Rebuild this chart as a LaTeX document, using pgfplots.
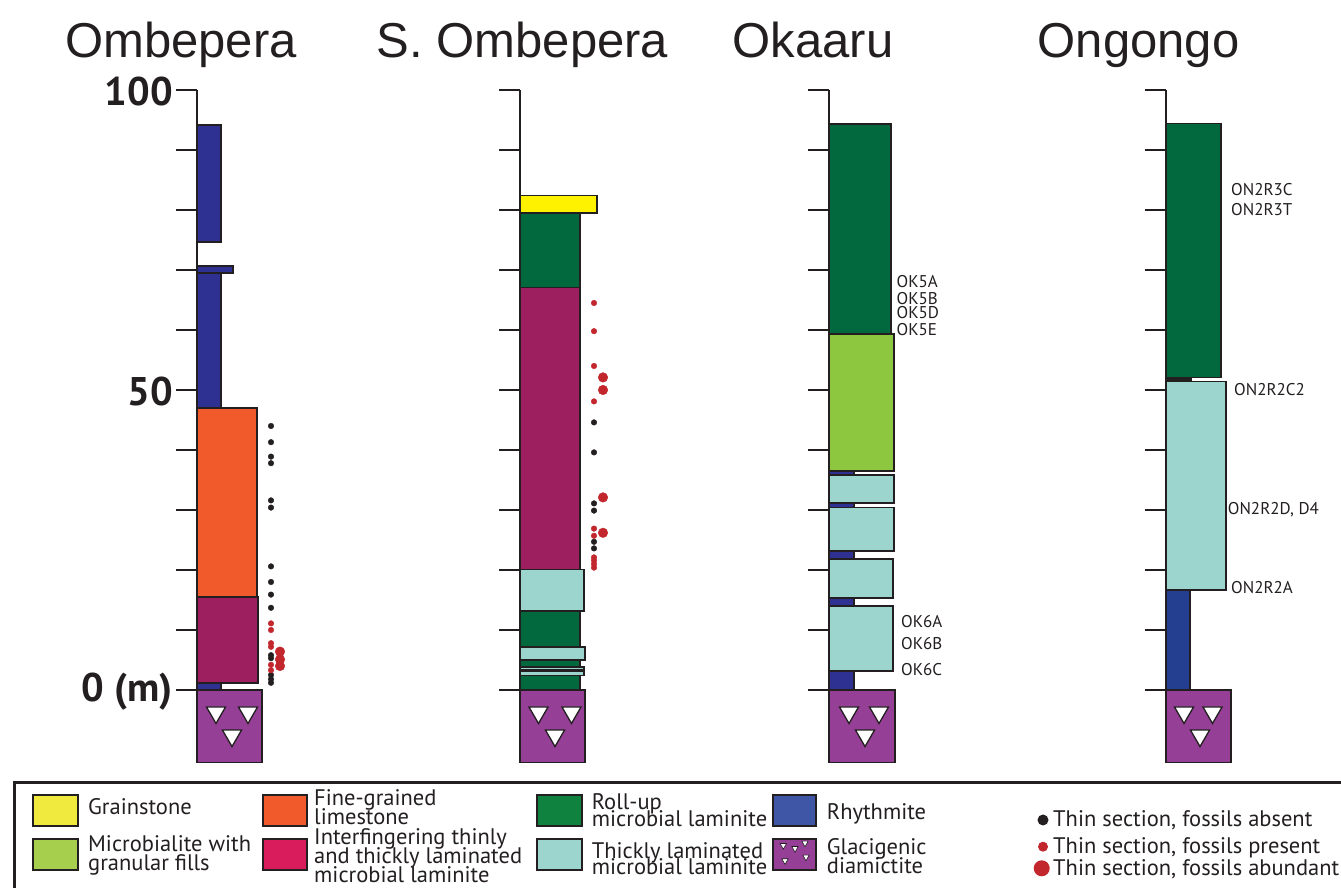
\documentclass[border=0pt]{standalone}
\usepackage{pgfplots}
\pgfplotsset{compat=1.18}
\usepackage{fontspec}
\setmainfont{PT Sans}
\newfontfamily\titlefont{Liberation Sans}
\definecolor{ink}{HTML}{231F20}
\definecolor{rhy}{HTML}{2E3192}
\definecolor{rhyB}{HTML}{243F8F}
\definecolor{rhyL}{HTML}{3F56A6}
\definecolor{orng}{HTML}{F15A2B}
\definecolor{mag}{HTML}{9E1F5F}
\definecolor{magL}{HTML}{D91C5C}
\definecolor{dgreen}{HTML}{02683E}
\definecolor{dgreenL}{HTML}{10823F}
\definecolor{lgreen}{HTML}{8DC63F}
\definecolor{lgreenL}{HTML}{A5CF4C}
\definecolor{yel}{HTML}{FFF200}
\definecolor{yelL}{HTML}{F1EA3E}
\definecolor{tlam}{HTML}{9BD5CD}
\definecolor{diam}{HTML}{953F96}
\definecolor{fred}{HTML}{C1272D}
\pgfplotsset{
  stratcol/.style={
    scale only axis, width=130pt, height=600pt,
    xmin=0, xmax=130, ymin=0, ymax=100,
    clip=false, anchor=south west,
    axis x line=none, axis y line=left,
    y axis line style={-, line width=2.4pt, draw=ink},
    ytick={0,10,...,100},
    tick align=outside, major tick length=21pt,
    ytick style={line width=2pt, draw=ink},
  },
  nolabels/.style={yticklabel={\mbox{}}},
  bed/.style={fill=#1, draw=ink, line width=1.6pt},
  dotA/.style={only marks, mark=*, mark size=2.8pt, color=ink},
  dotP/.style={only marks, mark=*, mark size=2.8pt, color=fred},
  dotB/.style={only marks, mark=*, mark size=4.8pt, color=fred},
  tri/.style={only marks, mark=triangle*, mark size=11pt, mark options={rotate=180, fill=white, draw=ink, line width=1.3pt}},
}
\tikzset{samp/.style={anchor=west, inner sep=0pt, font=\fontsize{17}{17}\selectfont, text=ink}}
\begin{document}
\begin{tikzpicture}[x=1pt,y=1pt]
\useasboundingbox (0,0) rectangle (1341,888);

% ---------------- Ombepera ----------------
\begin{axis}[stratcol, at={(197pt,198pt)},
  yticklabels={0 (m),,,,,50,,,,,100},
  yticklabel style={font=\fontsize{40}{40}\selectfont\bfseries, inner sep=3pt, text=ink, yshift=-2pt}]
\addplot[bed=diam] coordinates {(0,-12.1) (65,-12.1) (65,0) (0,0)} -- cycle;
\addplot[bed=rhy] coordinates {(0,0) (24,0) (24,1.2) (0,1.2)} -- cycle;
\addplot[bed=mag] coordinates {(0,1.2) (61,1.2) (61,15.5) (0,15.5)} -- cycle;
\addplot[bed=orng] coordinates {(0,15.5) (60,15.5) (60,47) (0,47)} -- cycle;
\addplot[bed=rhy] coordinates {(0,47) (24,47) (24,69.5) (0,69.5)} -- cycle;
\addplot[bed=rhy] coordinates {(0,69.5) (36,69.5) (36,70.7) (0,70.7)} -- cycle;
\addplot[bed=rhy] coordinates {(0,74.7) (24,74.7) (24,94.2) (0,94.2)} -- cycle;
\addplot[tri] coordinates {(19,-3.75) (51,-3.75) (35,-7.6)};
\addplot[dotA] coordinates {(74,44.0) (74,41.3) (74,38.9) (74,37.8) (74,31.6) (74,30.4) (74,20.6) (74,18.0) (74,15.9) (74,13.7) (74,5.8) (74,5.3) (74,2.5) (74,1.8) (74,1.2)};
\addplot[dotP] coordinates {(74,11.1) (74,10.0) (74,7.8) (74,7.2) (74,4.2) (74,3.3)};
\addplot[dotB] coordinates {(83,6.4) (83,5.1) (83,4.0)};
\end{axis}

% ---------------- S. Ombepera ----------------
\begin{axis}[stratcol, nolabels, at={(520pt,198pt)}]
\addplot[bed=diam] coordinates {(0,-12.1) (65,-12.1) (65,0) (0,0)} -- cycle;
\addplot[bed=dgreen] coordinates {(0,0) (60,0) (60,2.4) (0,2.4)} -- cycle;
\addplot[bed=tlam] coordinates {(0,2.4) (64,2.4) (64,3.1) (0,3.1)} -- cycle;
\addplot[bed=tlam] coordinates {(0,3.35) (64,3.35) (64,3.8) (0,3.8)} -- cycle;
\addplot[bed=dgreen] coordinates {(0,3.8) (60,3.8) (60,4.95) (0,4.95)} -- cycle;
\addplot[bed=tlam] coordinates {(0,4.95) (65,4.95) (65,7.2) (0,7.2)} -- cycle;
\addplot[bed=dgreen] coordinates {(0,7.2) (60,7.2) (60,13.2) (0,13.2)} -- cycle;
\addplot[bed=tlam] coordinates {(0,13.2) (64,13.2) (64,20.05) (0,20.05)} -- cycle;
\addplot[bed=mag] coordinates {(0,20.05) (60,20.05) (60,67.05) (0,67.05)} -- cycle;
\addplot[bed=dgreen] coordinates {(0,67.05) (60,67.05) (60,79.5) (0,79.5)} -- cycle;
\addplot[bed=yel] coordinates {(0,79.5) (77,79.5) (77,82.4) (0,82.4)} -- cycle;
\addplot[tri] coordinates {(18.5,-3.75) (51.5,-3.75) (35,-7.6)};
\addplot[dotA] coordinates {(74,44.6) (74,39.6) (74,31.1) (74,29.9) (74,24.7) (74,23.6)};
\addplot[dotP] coordinates {(74,64.5) (74,59.8) (74,54.0) (74,48.1) (74,26.9) (74,25.7) (74,22.1) (74,21.6) (74,21.0) (74,20.4)};
\addplot[dotB] coordinates {(83,52.1) (83,50.0) (83,32.1) (83,26.2)};
\end{axis}

% ---------------- Okaaru ----------------
\begin{axis}[stratcol, nolabels, at={(829pt,198pt)}]
\addplot[bed=diam] coordinates {(0,-12.1) (66,-12.1) (66,0) (0,0)} -- cycle;
\addplot[bed=rhy] coordinates {(0,0) (25,0) (25,3.2) (0,3.2)} -- cycle;
\addplot[bed=tlam] coordinates {(0,3.2) (64,3.2) (64,14) (0,14)} -- cycle;
\addplot[bed=rhy] coordinates {(0,14) (25,14) (25,15.3) (0,15.3)} -- cycle;
\addplot[bed=tlam] coordinates {(0,15.3) (64,15.3) (64,21.8) (0,21.8)} -- cycle;
\addplot[bed=rhy] coordinates {(0,21.8) (25,21.8) (25,23.2) (0,23.2)} -- cycle;
\addplot[bed=tlam] coordinates {(0,23.2) (65,23.2) (65,30.4) (0,30.4)} -- cycle;
\addplot[bed=rhy] coordinates {(0,30.4) (25,30.4) (25,31.2) (0,31.2)} -- cycle;
\addplot[bed=tlam] coordinates {(0,31.2) (65,31.2) (65,35.8) (0,35.8)} -- cycle;
\addplot[bed=rhy] coordinates {(0,35.8) (25,35.8) (25,36.5) (0,36.5)} -- cycle;
\addplot[bed=lgreen] coordinates {(0,36.5) (65,36.5) (65,59.3) (0,59.3)} -- cycle;
\addplot[bed=dgreen] coordinates {(0,59.3) (62,59.3) (62,94.3) (0,94.3)} -- cycle;
\addplot[tri] coordinates {(20,-3.75) (50,-3.75) (36,-7.6)};
\node[samp] at (axis cs:67.5,68.05) {OK5A};
\node[samp] at (axis cs:67.5,65.3) {OK5B};
\node[samp] at (axis cs:67.5,62.9) {OK5D};
\node[samp] at (axis cs:67.5,60.1) {OK5E};
\node[samp] at (axis cs:72,11.4) {OK6A};
\node[samp] at (axis cs:72,7.7) {OK6B};
\node[samp] at (axis cs:72,3.45) {OK6C};
\end{axis}

% ---------------- Ongongo ----------------
\begin{axis}[stratcol, nolabels, at={(1166pt,198pt)}]
\addplot[bed=diam] coordinates {(0,-12.1) (65,-12.1) (65,0) (0,0)} -- cycle;
\addplot[bed=rhyB] coordinates {(0,0) (24,0) (24,16.7) (0,16.7)} -- cycle;
\addplot[bed=tlam] coordinates {(0,16.7) (60,16.7) (60,51.4) (0,51.4)} -- cycle;
\addplot[bed=ink] coordinates {(0,51.4) (25,51.4) (25,52.1) (0,52.1)} -- cycle;
\addplot[bed=dgreen] coordinates {(0,52.1) (55,52.1) (55,94.4) (0,94.4)} -- cycle;
\addplot[tri] coordinates {(18,-3.75) (46.5,-3.75) (34,-7.6)};
\node[samp] at (axis cs:65,83.4) {ON2R3C};
\node[samp] at (axis cs:65,80.0) {ON2R3T};
\node[samp] at (axis cs:68,50.0) {ON2R2C2};
\node[samp] at (axis cs:61.7,30.1) {ON2R2D, D4};
\node[samp] at (axis cs:65,17.1) {ON2R2A};
\end{axis}

% ---------------- titles ----------------
\begin{scope}[every node/.style={anchor=base, inner sep=0pt, font=\titlefont\fontsize{49}{49}\selectfont, text=ink}]
\node at (181,830) {Ombepera};
\node at (522.5,830) {S. Ombepera};
\node at (813,830) {Okaaru};
\node at (1138.5,830) {Ongongo};
\end{scope}

% ---------------- legend ----------------
\draw[line width=3pt, ink] (1345,105) -- (14,105) -- (14,-5);
\begin{scope}[line width=2pt, draw=ink]
\draw[fill=yelL] (33,62) rectangle (78,93);
\draw[fill=lgreenL] (33,18) rectangle (78,49);
\draw[fill=orng] (263,62) rectangle (307,93);
\draw[fill=magL] (263,18) rectangle (307,49);
\draw[fill=dgreenL] (537,62) rectangle (582,93);
\draw[fill=tlam] (537,18) rectangle (582,49);
\draw[fill=rhyL] (773,62) rectangle (816,93);
\draw[fill=diam] (773,18) rectangle (816,49);
\end{scope}
\foreach \cx/\cy in {783.3/42.3, 795/39.3, 805/44.7, 785/27, 806/30.7}
  \draw[fill=white, draw=ink, line width=0.6pt] (\cx-3.2,\cy+2.2) -- (\cx+3.2,\cy+2.2) -- (\cx,\cy-3.5) -- cycle;
\begin{scope}[every node/.style={anchor=base west, inner sep=0pt, font=\fontsize{22.5}{22.5}\selectfont, text=ink}]
\node at (88,73) {Grainstone};
\node at (88,36) {Microbialite with};
\node at (88,17.5) {granular fills};
\node at (314,82) {Fine-grained};
\node at (314,63) {limestone};
\node at (314,43) {Interfingering thinly};
\node at (314,24) {and thickly laminated};
\node at (314,5.5) {microbial laminite};
\node at (591.7,78) {Roll-up};
\node at (591.7,61.3) {microbial laminite};
\node at (591.7,29.7) {Thickly laminated};
\node at (591.7,13) {microbial laminite};
\node at (826.7,68) {Rhythmite};
\node at (826.7,33) {Glacigenic};
\node at (826.7,14.7) {diamictite};
\node at (1053,61) {Thin section, fossils absent};
\node at (1053,34.8) {Thin section, fossils present};
\node at (1053,12) {Thin section, fossils abundant};
\end{scope}
\fill[ink] (1043,68) circle (5.5);
\fill[fred] (1043,41.3) circle (5);
\fill[fred] (1041.7,19.7) circle (8);
\end{tikzpicture}
\end{document}
